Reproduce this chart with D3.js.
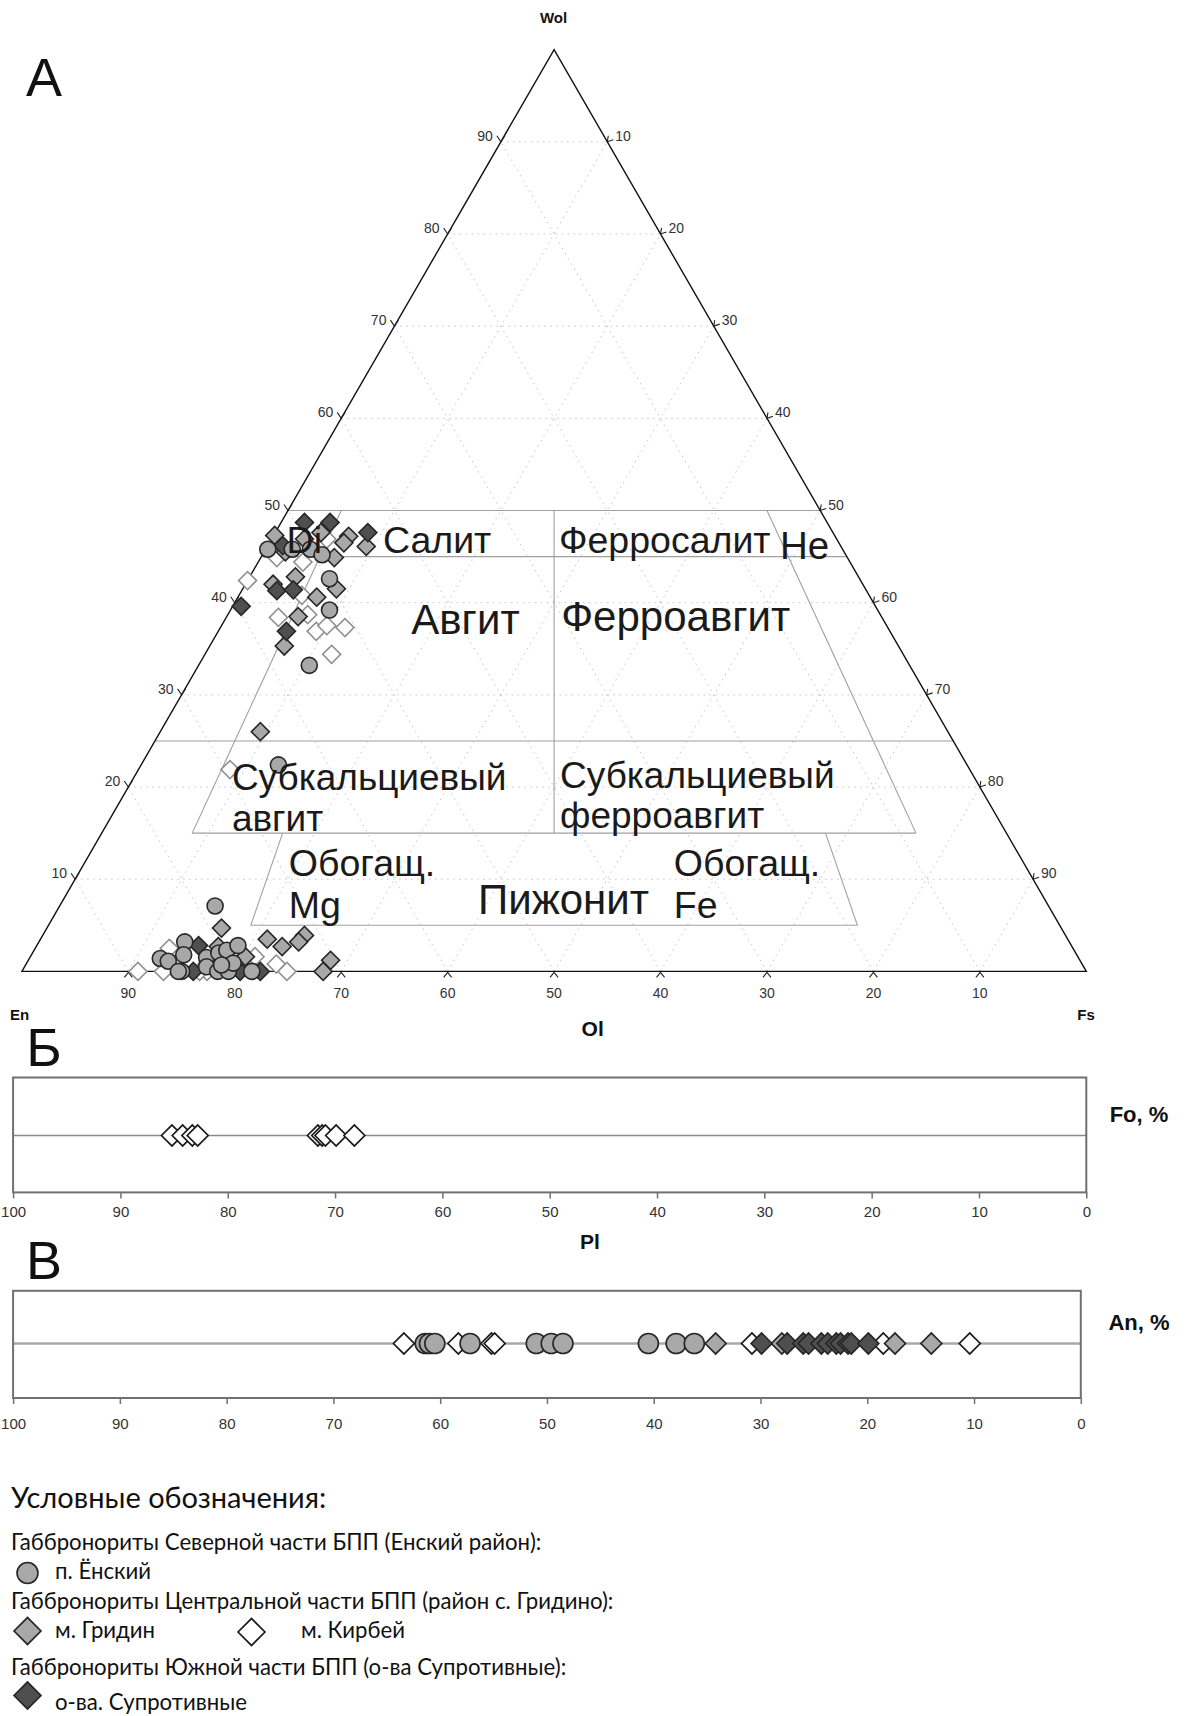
<!DOCTYPE html>
<html>
<head>
<meta charset="utf-8">
<script src="https://cdn.jsdelivr.net/npm/d3@7"></script>
<style>
  body { margin: 0; background: #fff; }
  svg { display: block; }
</style>
</head>
<body>
<svg id="chart" width="1188" height="1716"></svg>
<script>
'use strict'

// ---- data ----
const triTicks = d3.range(10, 100, 10);
const stripTicks = d3.range(0, 101, 10);

// pyroxene compositions [En, Wol, Fs]
const pxEnsky = [
    [54.0, 45.8, 0.2], [51.7, 45.8, 2.5], [50.0, 45.8, 4.2], [49.2, 45.2, 5.6], [49.8, 42.6, 7.6],
    [51.5, 39.2, 9.3], [56.4, 33.2, 10.4], [64.7, 22.4, 12.9],
    [78.3, 7.1, 14.6], [83.1, 3.2, 13.7], [86.3, 1.4, 12.3], [85.7, 1.1, 13.2], [83.9, 1.8, 14.3],
    [85.0, 0, 15.0], [81.9, 1.5, 16.6], [82.4, 0.5, 17.1], [80.5, 2.0, 17.5], [79.6, 2.3, 18.1],
    [78.3, 2.8, 18.9], [81.6, 0, 18.4], [80.6, 0, 19.4], [79.7, 0.9, 19.4], [78.4, 0, 21.6],
    [80.9, 0.7, 18.4], [85.3, 0, 14.7]
];
const pxGridin = [
    [52.6, 47.3, 0.1], [48.1, 47.6, 4.3], [45.7, 47.2, 7.1], [46.5, 46.5, 7.0], [44.6, 46.1, 9.3],
    [52.5, 45.5, 2.0], [48.2, 44.9, 6.9], [50.0, 46.9, 3.1], [55.4, 42.0, 2.6], [52.9, 42.8, 4.3],
    [49.7, 41.5, 8.8], [52.0, 40.6, 7.4], [54.8, 38.5, 6.7], [57.7, 35.3, 7.0], [64.6, 26.0, 9.4],
    [78.9, 4.7, 16.4], [75.2, 3.5, 21.3], [74.2, 2.7, 23.1], [71.5, 3.9, 24.6], [72.4, 3.2, 24.4],
    [70.4, 1.2, 28.4], [71.7, 0, 28.3], [78.2, 1.6, 20.2], [80.2, 2.7, 17.1]
];
const pxKirbey = [
    [53.6, 44.9, 1.5], [51.4, 44.4, 4.2], [57.6, 42.4, 0], [53.3, 40.8, 5.9], [56.7, 38.4, 4.9],
    [53.8, 38.7, 7.5], [53.9, 36.9, 9.2], [52.6, 37.5, 9.9], [51.0, 37.3, 11.7], [53.7, 34.4, 11.9],
    [69.5, 21.9, 8.6], [47.9, 46.9, 5.2],
    [89.1, 0, 10.9], [86.7, 0, 13.3], [84.9, 2.5, 12.6], [75.7, 0.8, 23.5], [75.1, 0, 24.9],
    [77.3, 1.6, 21.1], [82.6, 0, 17.4], [83.3, 0, 16.7]
];
const pxSuprot = [
    [49.1, 48.7, 2.2], [46.7, 48.7, 4.6], [43.7, 47.6, 8.7], [55.4, 41.3, 3.3], [53.8, 41.4, 4.8],
    [59.6, 39.6, 0.8], [56.7, 36.9, 6.4], [52.4, 46.2, 1.4],
    [82.0, 2.8, 15.2], [83.9, 0, 16.1], [77.6, 0, 22.4], [79.5, 0, 20.5]
];

// olivine, Fo %
const foKirbey = [85.2, 84.2, 83.3, 82.8, 71.6, 71.2, 70.9, 69.9, 68.2];

// plagioclase, An %
const plEnsky = [61.4, 61.0, 60.5, 57.2, 51.0, 49.6, 48.5, 40.5, 37.9, 36.2];
const plKirbey = [63.4, 58.3, 55.2, 54.9, 30.8, 18.5, 10.4];
const plGridin = [34.2, 28.0, 17.4, 14.0];
const plSuprot = [29.9, 27.5, 26.0, 25.5, 24.3, 23.7, 22.9, 22.5, 21.8, 21.5, 19.9];

// pyroxene field boundaries (Poldervaart & Hess), segments in [En, Wol, Fs]
const fieldLines = [
    [[50, 50, 0], [0, 50, 50]],
    [[55, 45, 0], [0, 45, 55]],
    [[75, 25, 0], [0, 25, 75]],
    [[76.5, 15, 8.5], [8.5, 15, 76.5]],
    [[76, 5, 19], [19, 5, 76]],
    [[45, 50, 5], [76.5, 15, 8.5]],
    [[5, 50, 45], [8.5, 15, 76.5]],
    [[25, 50, 25], [42.5, 15, 42.5]],
    [[68, 15, 17], [76, 5, 19]],
    [[17, 15, 68], [19, 5, 76]]
];

// ---- styles ----
const GRAY = '#a8a8a8', DARK = '#4f4f4f', EDGE = '#262626';
const styles = {
    ensky: { shape: 'circle', fill: GRAY, stroke: EDGE },
    gridin: { shape: 'diamond', fill: GRAY, stroke: EDGE },
    kirbey: { shape: 'diamond', fill: '#fff', stroke: '#1a1a1a' },
    suprot: { shape: 'diamond', fill: DARK, stroke: EDGE }
};

const svg = d3.select('#chart');

function marker(g, st, x, y, r, strokeOverride) {
    if (st.shape === 'circle') {
        g.append('circle').attr('cx', x).attr('cy', y).attr('r', r)
            .attr('fill', st.fill).attr('stroke', strokeOverride || st.stroke).attr('stroke-width', 1.6);
    } else {
        const side = r * Math.SQRT2;
        g.append('path')
            .attr('d', d3.symbol().type(d3.symbolSquare).size(side * side)())
            .attr('transform', `translate(${x},${y}) rotate(45)`)
            .attr('fill', st.fill).attr('stroke', strokeOverride || st.stroke).attr('stroke-width', 1.6);
    }
}

// ---- ternary ----
const x0 = 21.9, x1 = 1086.3, base = 971.4;
const h = (x1 - x0) * Math.sqrt(3) / 2;
const sx = d3.scaleLinear().domain([0, 100]).range([x0, x1]);
const sy = d3.scaleLinear().domain([0, 100]).range([base, base - h]);
function tp(en, wol, fs) {
    const t = en + wol + fs;
    const w = wol * 100 / t, f = fs * 100 / t;
    return [sx(f + w / 2), sy(w)];
}
const line = d3.line();

const grid = svg.append('g').attr('fill', 'none').attr('stroke', '#c4c4c4')
    .attr('stroke-width', 1).attr('stroke-dasharray', '1.5,4.5');
triTicks.forEach(v => {
    [[tp(100 - v, v, 0), tp(0, v, 100 - v)],
     [tp(v, 0, 100 - v), tp(v, 100 - v, 0)],
     [tp(100 - v, 0, v), tp(0, 100 - v, v)]].forEach(seg => grid.append('path').attr('d', line(seg)));
});

const fields = svg.append('g').attr('fill', 'none').attr('stroke', '#a0a0a0').attr('stroke-width', 1.1);
fieldLines.forEach(seg => fields.append('path').attr('d', line(seg.map(p => tp(...p)))));

svg.append('path')
    .attr('d', line([tp(100, 0, 0), tp(0, 100, 0), tp(0, 0, 100)]) + 'Z')
    .attr('fill', 'none').attr('stroke', '#111').attr('stroke-width', 1.4);

// axis ticks and labels
const axes = svg.append('g').attr('font-family', 'Liberation Sans, Arial, sans-serif')
    .attr('font-size', 14).attr('fill', '#333');
const tk = svg.append('g').attr('fill', 'none').attr('stroke', '#222').attr('stroke-width', 1.1);
triTicks.forEach(v => {
    let [x, y] = tp(100 - v, v, 0);
    tk.append('path').attr('d', `M${x - 4},${y - 6}L${x},${y}L${x + 4},${y - 6}`);
    axes.append('text').attr('x', x - 8).attr('y', y - 1).attr('text-anchor', 'end').text(v);
    [x, y] = tp(0, 100 - v, v);
    tk.append('path').attr('d', `M${x + 1},${y - 6}L${x},${y}L${x + 6},${y - 2}`);
    axes.append('text').attr('x', x + 8).attr('y', y - 1).text(v);
    [x, y] = tp(v, 0, 100 - v);
    tk.append('path').attr('d', `M${x - 4},${y + 6}L${x},${y + 1}L${x + 4},${y + 6}`);
    axes.append('text').attr('x', x).attr('y', y + 27).attr('text-anchor', 'middle').text(v);
});

const bold = svg.append('g').attr('font-family', 'Liberation Sans, Arial, sans-serif')
    .attr('font-weight', 'bold').attr('fill', '#111').attr('text-anchor', 'middle');
bold.append('text').attr('x', 553.5).attr('y', 23).attr('font-size', 15).text('Wol');
bold.append('text').attr('x', 19.5).attr('y', 1020).attr('font-size', 15).text('En');
bold.append('text').attr('x', 1086).attr('y', 1020).attr('font-size', 15).text('Fs');

// points
const pts = svg.append('g');
pxKirbey.forEach(p => { const [x, y] = tp(...p); marker(pts, styles.kirbey, x, y, 9, '#909090'); });
pxGridin.forEach(p => { const [x, y] = tp(...p); marker(pts, styles.gridin, x, y, 9); });
pxSuprot.forEach(p => { const [x, y] = tp(...p); marker(pts, styles.suprot, x, y, 9); });
pxEnsky.forEach(p => { const [x, y] = tp(...p); marker(pts, styles.ensky, x, y, 8); });

// field names: text, left x, centre y, font size
const fieldNames = [
    ['Di', 286.6, 539, 37.5], ['Салит', 382.9, 539, 37.5], ['Ферросалит', 559, 539, 37.5], ['He', 780, 545, 38.5],
    ['Авгит', 411.3, 619, 42], ['Ферроавгит', 561.2, 616, 42],
    ['Субкальциевый', 231.9, 777, 37], ['авгит', 231.9, 818, 37],
    ['Субкальциевый', 560, 775, 37], ['ферроавгит', 560, 815, 37],
    ['Обогащ.', 288.8, 862, 37.5], ['Mg', 288.8, 904, 37.5], ['Пижонит', 478, 899, 42],
    ['Обогащ.', 673.8, 862, 37.5], ['Fe', 673.8, 904, 37.5]
];
svg.append('g').attr('font-family', 'Liberation Sans, Arial, sans-serif')
    .attr('fill', '#1a1a1a')
    .selectAll('text').data(fieldNames).enter().append('text')
    .attr('font-size', d => d[3])
    .attr('x', d => d[1]).attr('y', d => d[2] + d[3] * 0.36).text(d => d[0]);

// panel letters
const letters = svg.append('g').attr('font-family', 'Liberation Sans Narrow, Liberation Sans, sans-serif')
    .attr('font-size', 54).attr('fill', '#111').attr('text-anchor', 'middle');
letters.append('text').attr('x', 44).attr('y', 96).text('A');
letters.append('text').attr('x', 44).attr('y', 1066).text('Б');
letters.append('text').attr('x', 44).attr('y', 1279).text('В');

// ---- strips ----
function strip(opt) {
    const g = svg.append('g');
    const x = d3.scaleLinear().domain([100, 0]).range([opt.left, opt.right]);
    g.append('line').attr('x1', opt.left).attr('x2', opt.right).attr('y1', opt.mid).attr('y2', opt.mid)
        .attr('stroke', opt.midColor).attr('stroke-width', opt.midWidth);
    g.append('rect').attr('x', opt.left).attr('y', opt.top)
        .attr('width', opt.right - opt.left).attr('height', opt.bottom - opt.top)
        .attr('fill', 'none').attr('stroke', '#707070').attr('stroke-width', 2);
    const ax = g.append('g').attr('transform', `translate(0,${opt.bottom})`)
        .call(d3.axisBottom(x).tickValues(stripTicks).tickSize(6).tickPadding(opt.pad));
    ax.select('.domain').remove();
    ax.selectAll('line').attr('stroke', '#707070').attr('stroke-width', 1.5);
    ax.selectAll('text').attr('font-family', 'Liberation Sans, Arial, sans-serif')
        .attr('font-size', 15).attr('fill', '#333');
    opt.series.forEach(s => s.values.forEach(v => marker(g, s.style, x(v), opt.mid, s.r)));
    bold.append('text').attr('x', (opt.left + opt.right) / 2 + 43).attr('y', opt.top - 42)
        .attr('font-size', 21).text(opt.title);
    bold.append('text').attr('x', 1139).attr('y', opt.mid - 14).attr('font-size', 22).text(opt.unit);
    return x;
}

strip({
    left: 13.1, right: 1086.3, top: 1077.5, bottom: 1192.4, mid: 1135.5, pad: 8,
    midColor: '#8a8a8a', midWidth: 1.3, title: 'Ol', unit: 'Fo, %',
    series: [{ values: foKirbey, style: styles.kirbey, r: 10.5 }]
});
strip({
    left: 13.1, right: 1080.8, top: 1290.8, bottom: 1398, mid: 1343.5, pad: 14,
    midColor: '#a8a8a8', midWidth: 2.5, title: 'Pl', unit: 'An, %',
    series: [
        { values: plKirbey, style: styles.kirbey, r: 10.5 },
        { values: plEnsky, style: styles.ensky, r: 10 },
        { values: plGridin, style: styles.gridin, r: 10.5 },
        { values: plSuprot, style: styles.suprot, r: 10.5 }
    ]
});

// ---- legend ----
const lg = svg.append('g').attr('font-family', 'Lato, Open Sans, sans-serif').attr('fill', '#111');
lg.append('text').attr('x', 11).attr('y', 1508).attr('font-size', 29).text('Условные обозначения:');
const legendRows = [
    ['Габбронориты Северной части БПП (Енский район):', 11, 1550],
    ['п. Ёнский', 55, 1579],
    ['Габбронориты Центральной части БПП (район с. Гридино):', 11, 1609],
    ['м. Гридин', 55, 1638],
    ['м. Кирбей', 301, 1638],
    ['Габбронориты Южной части БПП (о-ва Супротивные):', 11, 1675],
    ['о-ва. Супротивные', 55, 1710]
];
lg.selectAll('text.row').data(legendRows).enter().append('text').attr('class', 'row')
    .attr('font-size', 22.2).attr('x', d => d[1]).attr('y', d => d[2]).text(d => d[0]);
marker(lg, styles.ensky, 27.5, 1573, 10.5);
marker(lg, styles.gridin, 27.5, 1631, 13.5);
marker(lg, styles.kirbey, 251.5, 1632, 13.5);
marker(lg, styles.suprot, 27.5, 1695.5, 13.5);
</script>
</body>
</html>
